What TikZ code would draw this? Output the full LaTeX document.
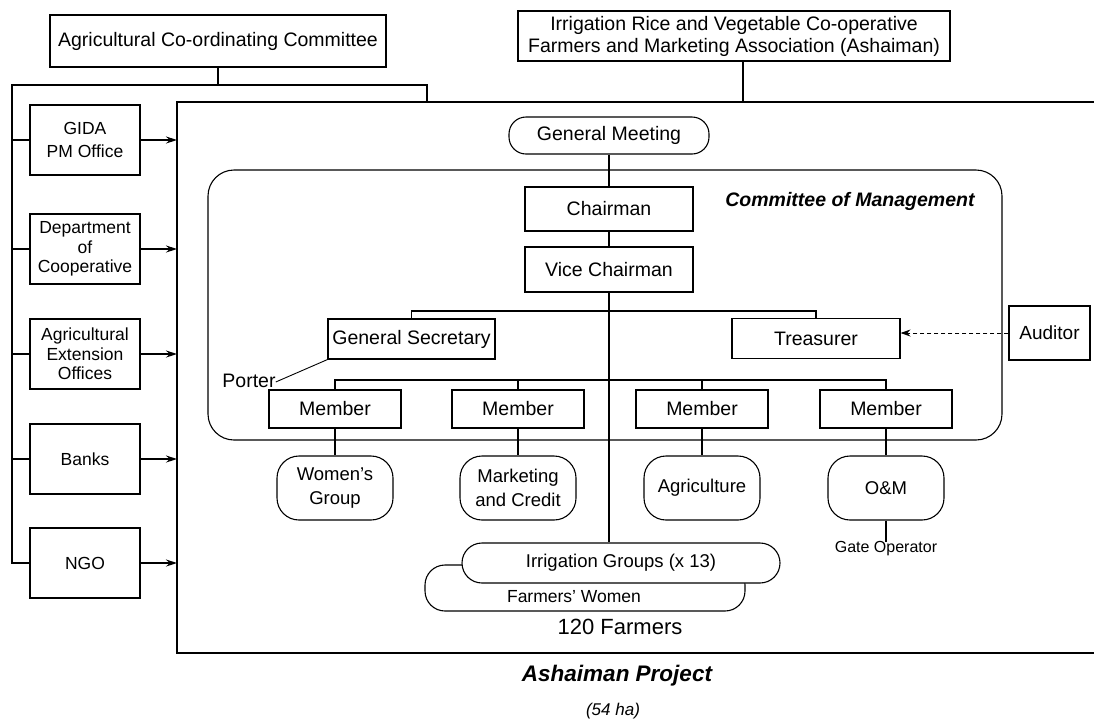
\documentclass[tikz,border=0pt]{standalone}
\usepackage{fontspec}
\setmainfont{Liberation Sans}
\usetikzlibrary{arrows.meta}
\begin{document}
\begin{tikzpicture}[x=1pt,y=-1pt,
  every node/.style={inner sep=0pt, align=center},
  ln/.style={line width=1.1pt},
  box/.style={draw, line width=1.1pt, font=\fontsize{19.5}{22}\selectfont},
  sidebox/.style={box, minimum width=110pt, minimum height=70pt,
    font=\fontsize{17.5}{19.5}\selectfont},
  officer/.style={box, minimum width=168pt, minimum height=42pt},
  member/.style={box, minimum width=132pt, minimum height=38pt},
  group/.style={box, rounded corners=22pt, minimum width=116pt, minimum height=64pt,
    font=\fontsize{18.5}{24}\selectfont},
  arr/.style={ln, -{Stealth[length=11pt,width=7pt]}},
  darr/.style={line width=0.9pt, dash pattern=on 4pt off 3pt, -{Stealth[length=10pt,width=7pt]}}
]
\useasboundingbox (0,0) rectangle (1094,724);

% top bodies
\node[box, minimum width=336pt, minimum height=52pt] (acc) at (218,41)
  {Agricultural Co-ordinating Committee};
\node[box, minimum width=432pt, minimum height=50pt] (irv) at (734,36)
  {Irrigation Rice and Vegetable Co-operative\\Farmers and Marketing Association (Ashaiman)};

% project frame (open at the right)
\coordinate (fl) at (177,102);
\coordinate (fb) at (177,653);
\draw[ln] (1094,102) -- (fl) -- (fb) -- (1094,653);

% supporting agencies
\node[sidebox] (gida) at (85,140) {GIDA\\[3pt]PM Office};
\node[sidebox] (dept) at (85,249) {Department\\of\\Cooperative};
\node[sidebox] (ext)  at (85,354) {Agricultural\\Extension\\Offices};
\node[sidebox] (bank) at (85,459) {Banks};
\node[sidebox] (ngo)  at (85,563) {NGO};

% bracket from the co-ordinating committee
\coordinate (bl) at (12,85);
\coordinate (bj) at (427,102);
\draw[ln] (acc.south) -- (acc.south |- bl);
\draw[ln] (bj) |- (bl) |- (ngo.west);
\foreach \b in {gida,dept,ext,bank}
  \draw[ln] (bl |- \b.west) -- (\b.west);
\foreach \b in {gida,dept,ext,bank,ngo}
  \draw[arr] (\b.east) -- (\b.east -| fl);

% association link
\draw[ln] ([xshift=9pt]irv.south) -- ([xshift=9pt]irv.south |- fl);

% general meeting and committee
\node[box, rounded corners=17pt, minimum width=200pt, minimum height=37pt] (gm) at (609,135.5)
  {General Meeting};
\draw[ln, rounded corners=26pt] (208,170) rectangle (1002,440);
\node[font=\bfseries\itshape\fontsize{19.5}{22}\selectfont] (com) at (850,201)
  {Committee of Management};

\node[officer, minimum height=44pt] (chair) at (609,209) {Chairman};
\node[officer, minimum height=45pt] (vice) at (609,269.5) {Vice Chairman};
\node[officer, minimum width=167pt, minimum height=40pt] (gs) at (411.5,339) {General Secretary};
\node[officer, minimum height=40pt] (tr) at (816,338.5) {Treasurer};
\node[box, minimum width=81pt, minimum height=54pt, font=\fontsize{19}{22}\selectfont] (aud)
  at (1049.5,333) {Auditor};
\node[font=\fontsize{19.5}{22}\selectfont] (porter) at (249,381) {Porter};

\node[member] (m1) at (335,409) {Member};
\node[member] (m2) at (518,409) {Member};
\node[member] (m3) at (702,409) {Member};
\node[member] (m4) at (886,409) {Member};

\node[group] (wg) at (335,488) {Women\symbol{39}s\\Group};
\node[group] (mc) at (518,488) {Marketing\\and Credit};
\node[group] (ag) at (702,488) {Agriculture};
\node[group] (om) at (886,488) {O\&M};
\node[font=\fontsize{16}{18}\selectfont] (gate) at (886,549) {Gate Operator};

% irrigation groups over the farmers' women
\node[draw, ln, rounded corners=20pt, minimum width=320pt, minimum height=46pt] (fw) at (585,588) {};
\node[font=\fontsize{17.5}{20}\selectfont] (fwt) at (574,597) {Farmers\symbol{39} Women};
\node[box, fill=white, rounded corners=20pt, minimum width=318pt, minimum height=40pt,
  font=\fontsize{18.5}{22}\selectfont] (ig) at (621,563) {Irrigation Groups (x 13)};

\node[font=\fontsize{22}{26}\selectfont] (farm) at (620,627) {120 Farmers};
\node[font=\bfseries\itshape\fontsize{22.5}{26}\selectfont] (title) at (617,676) {Ashaiman Project};
\node[font=\itshape\fontsize{17}{20}\selectfont] (area) at (613,711) {(54 ha)};

% connectors
\draw[ln] (gm.south) -- (chair.north);
\draw[ln] (chair.south) -- (vice.north);
\draw[ln] (vice.south) -- (ig.north -| vice.south);
\draw[ln] (gs.north) -- (gs.north |- 0,311) -- (tr.north |- 0,311) -- (tr.north);
\draw[ln] (m1.north) -- (m1.north |- 0,380) -- (m4.north |- 0,380) -- (m4.north);
\draw[ln] (m2.north) -- (m2.north |- 0,380);
\draw[ln] (m3.north) -- (m3.north |- 0,380);
\draw[ln] (m1.south) -- (wg.north);
\draw[ln] (m2.south) -- (mc.north);
\draw[ln] (m3.south) -- (ag.north);
\draw[ln] (m4.south) -- (om.north);
\draw[ln] (om.south) -- (gate.north);
\draw[line width=0.9pt] ([yshift=-8pt]porter.north east) -- (gs.south west);
\draw[darr] (aud.west) -- (aud.west -| tr.east);
\end{tikzpicture}
\end{document}
